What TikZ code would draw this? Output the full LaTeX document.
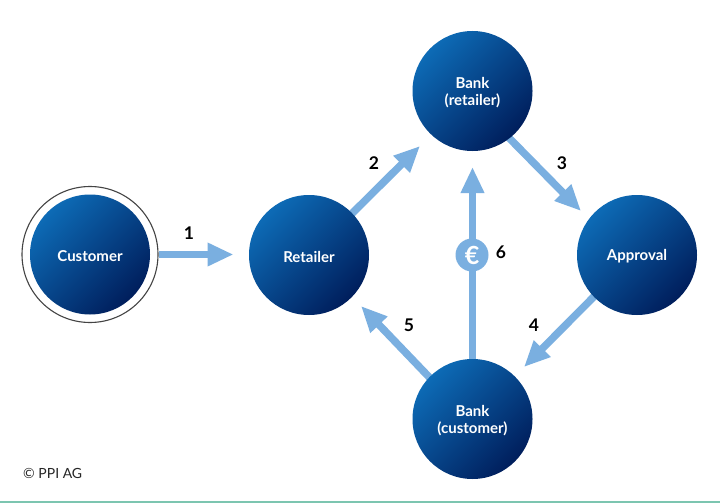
\documentclass[tikz,border=0pt]{standalone}
\usepackage{fontspec}
\setmainfont{Lato}
\usetikzlibrary{arrows.meta,calc}
\definecolor{arrowblue}{HTML}{7AAFE0}
\definecolor{topblue}{HTML}{0D6BB6}
\definecolor{midblue}{HTML}{0A56A0}
\definecolor{botblue}{HTML}{001E5C}
\definecolor{teal}{HTML}{7CC5B0}
\definecolor{ringgrey}{HTML}{444444}
\newcommand{\lowtext}[1]{\raisebox{-1.5pt}[\height][\depth]{#1}}
\pgfdeclarelayer{canvas}
\pgfdeclarelayer{arr}
\pgfsetlayers{canvas,arr,main}
\tikzset{
  x=1pt,y=-1pt,
  party/.style={circle,minimum size=120pt,inner sep=0pt,align=center,text=white,
    font=\fontsize{15}{17}\selectfont\bfseries,
    shading=axis,left color=topblue,middle color=midblue,right color=botblue,shading angle=45},
  ringnode/.style={circle,minimum size=136pt,inner sep=0pt,draw=ringgrey,line width=1.1pt},
  flow/.style={draw=arrowblue,line width=7.5pt,shorten <=-5pt,-{Triangle[length=26pt,width=22pt]}},
  num/.style={font=\fontsize{17.5}{20}\selectfont\bfseries,text=black},
  eurodisc/.style={circle,fill=arrowblue,minimum size=33pt,inner sep=0pt,text=white,font=\fontsize{25}{25}\selectfont\bfseries},
}
\begin{document}
\begin{tikzpicture}
\useasboundingbox (0,0) rectangle (720,503);
\begin{pgfonlayer}{canvas}
\fill[white] (0,0) rectangle (720,503);
\end{pgfonlayer}
\node[ringnode] (ring) at (90,254.5) {};
\node[party] (cust) at (90,254.5) {\lowtext{Customer}};
\node[party] (ret) at (309,255) {\lowtext{Retailer}};
\node[party] (bankr) at (472.5,91) {\lowtext{Bank}\\\lowtext{(retailer)}};
\node[party] (appr) at (637,255) {\lowtext{Approval}};
\node[party] (bankc) at (472.5,419) {\lowtext{Bank}\\\lowtext{(customer)}};
\coordinate (t1) at (233.5,254.5);
\coordinate (t2) at (420,146);
\coordinate (t3) at (581,211);
\coordinate (t4) at (524,367);
\coordinate (t5) at (361,306);
\coordinate (t6) at (472.5,167);
\begin{pgfonlayer}{arr}
\draw[flow,shorten <=0.5pt] (ring.east) -- (t1);
\draw[flow] (ret.44) -- (t2);
\draw[flow] (bankr.-52.6) -- (t3);
\draw[flow] (appr.224) -- (t4);
\draw[flow] (bankc.136) -- (t5);
\draw[flow] (bankc.90) -- (t6);
\end{pgfonlayer}
\node[eurodisc] (euro) at (472,255) {€};
\node[num] (n1) at (189,233) {1};
\node[num] (n2) at (374,163) {2};
\node[num] (n3) at (562,163) {3};
\node[num] (n4) at (534,325) {4};
\node[num] (n5) at (409,325) {5};
\node[num] (n6) at (501,252) {6};
\node[anchor=west,inner sep=0pt,font=\fontsize{14}{16}\selectfont,text=black!85] (copy) at (23,473) {© PPI AG};
\fill[teal] (0,501) rectangle (720,503);
\end{tikzpicture}
\end{document}
